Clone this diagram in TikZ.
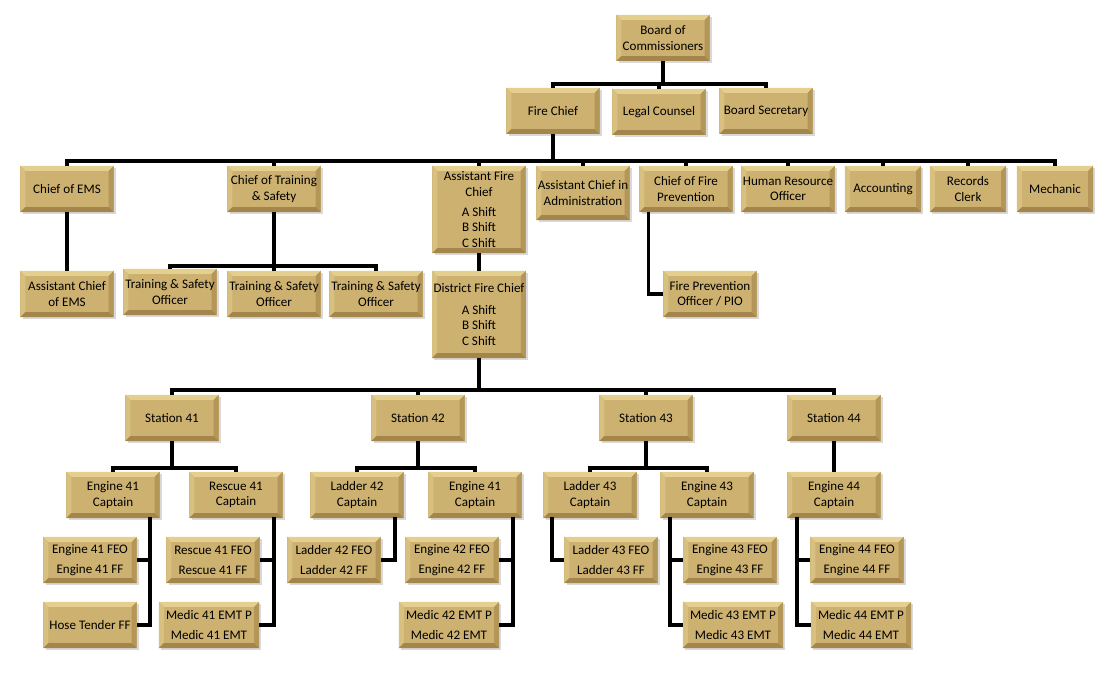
\documentclass[tikz,border=0pt]{standalone}
\usepackage{fontspec}
\setmainfont{Carlito}
\usepackage{tikz}
\usetikzlibrary{shadows}
\definecolor{gold}{RGB}{205,177,112}
\definecolor{goldtop}{RGB}{228,207,143}
\definecolor{goldleft}{RGB}{216,192,128}
\definecolor{goldright}{RGB}{180,150,88}
\definecolor{goldbot}{RGB}{164,134,76}
\newcommand{\unitfont}{\fontsize{9.3}{11}\selectfont}
\tikzset{
  bevel/.style={path picture={
    \fill[goldtop] (path picture bounding box.north west) -- (path picture bounding box.north east)
      -- ++(-3.5pt,-3.5pt) -- ([shift={(3.5pt,-3.5pt)}]path picture bounding box.north west) -- cycle;
    \fill[goldleft] (path picture bounding box.north west) -- (path picture bounding box.south west)
      -- ++(3.5pt,3.5pt) -- ([shift={(3.5pt,-3.5pt)}]path picture bounding box.north west) -- cycle;
    \fill[goldright] (path picture bounding box.north east) -- (path picture bounding box.south east)
      -- ++(-3.5pt,3.5pt) -- ([shift={(-3.5pt,-3.5pt)}]path picture bounding box.north east) -- cycle;
    \fill[goldbot] (path picture bounding box.south west) -- (path picture bounding box.south east)
      -- ++(-3.5pt,3.5pt) -- ([shift={(3.5pt,3.5pt)}]path picture bounding box.south west) -- cycle;
  }},
}

\begin{document}
\begin{tikzpicture}[
    x=0.025cm, y=-0.025cm,
    unit/.style={rectangle, fill=gold, bevel, drop shadow={shadow xshift=1.5pt, shadow yshift=-1.5pt, opacity=0.3},
      minimum width=2.325cm, minimum height=1.15cm, align=center, inner sep=1pt, font=\unitfont},
    narrow/.style={unit, minimum width=1.9cm},
    wide/.style={unit, minimum width=2.5cm},
    tall/.style={unit, minimum height=2.175cm},
    link/.style={line width=2.3pt},
]
    \useasboundingbox (0,0) rectangle (1114,674);

    % board level
    \node[unit] (board) at (663,38) {Board of\\Commissioners};
    \node[unit] (chief) at (553,111) {Fire Chief};
    \node[unit] (legal) at (659,112) {Legal Counsel};
    \node[unit] (secretary) at (766,111) {Board Secretary};

    % reports to the fire chief
    \node[unit] (ems) at (67,189) {Chief of EMS};
    \node[unit] (train) at (274,189) {Chief of Training\\\& Safety};
    \node[tall] (afc) at (479,209.5) {Assistant Fire\\Chief\\[3.2pt]A Shift\\B Shift\\C Shift};
    \node[unit, minimum height=1.35cm] (admin) at (583,193) {Assistant Chief in\\Administration};
    \node[unit] (prev) at (686,189) {Chief of Fire\\Prevention};
    \node[unit] (hr) at (788,189) {Human Resource\\Officer};
    \node[narrow] (acct) at (883,189) {Accounting};
    \node[narrow] (rec) at (968,189) {Records\\Clerk};
    \node[narrow] (mech) at (1055,189) {Mechanic};

    \node[unit] (aems) at (67,294) {Assistant Chief\\of EMS};
    \node[unit] (ts1) at (170,292) {Training \& Safety\\Officer};
    \node[unit] (ts2) at (274,294) {Training \& Safety\\Officer};
    \node[unit] (ts3) at (376,294) {Training \& Safety\\Officer};
    \node[tall] (dfc) at (479,314.5) {District Fire Chief\\[4.5pt]A Shift\\B Shift\\C Shift};
    \node[unit] (fpo) at (710,294) {Fire Prevention\\Officer / PIO};

    % stations
    \node[unit] (st41) at (172,418) {Station 41};
    \node[unit] (st42) at (418,418) {Station 42};
    \node[unit] (st43) at (646,418) {Station 43};
    \node[unit] (st44) at (834,418) {Station 44};

    \node[unit] (e41c) at (113,495) {Engine 41\\Captain};
    \node[unit] (r41c) at (236,495) {Rescue 41\\Captain};
    \node[unit] (l42c) at (357,495) {Ladder 42\\Captain};
    \node[unit] (e41cb) at (475,495) {Engine 41\\Captain};
    \node[unit] (l43c) at (590,495) {Ladder 43\\Captain};
    \node[unit] (e43c) at (707,495) {Engine 43\\Captain};
    \node[unit] (e44c) at (834,495) {Engine 44\\Captain};

    \node[unit] (e41f) at (90,560) {Engine 41 FEO\\[3.2pt]Engine 41 FF};
    \node[unit] (r41f) at (213,560) {Rescue 41 FEO\\[3.2pt]Rescue 41 FF};
    \node[unit] (l42f) at (334,560) {Ladder 42 FEO\\[3.2pt]Ladder 42 FF};
    \node[unit] (e42f) at (452,560) {Engine 42 FEO\\[3.2pt]Engine 42 FF};
    \node[unit] (l43f) at (611,560) {Ladder 43 FEO\\[3.2pt]Ladder 43 FF};
    \node[unit] (e43f) at (730,560) {Engine 43 FEO\\[3.2pt]Engine 43 FF};
    \node[unit] (e44f) at (857,560) {Engine 44 FEO\\[3.2pt]Engine 44 FF};

    \node[unit] (hose) at (90,625) {Hose Tender FF};
    \node[wide] (m41) at (209,625) {Medic 41 EMT P\\[3.2pt]Medic 41 EMT};
    \node[wide] (m42) at (449,625) {Medic 42 EMT P\\[3.2pt]Medic 42 EMT};
    \node[wide] (m43) at (733,625) {Medic 43 EMT P\\[3.2pt]Medic 43 EMT};
    \node[wide] (m44) at (861,625) {Medic 44 EMT P\\[3.2pt]Medic 44 EMT};

    % bus points
    \coordinate (topbus) at (663,84);
    \coordinate (rowbus) at (553,161);
    \coordinate (tsbus) at (274,266);
    \coordinate (stbus) at (479,390);
    \coordinate (b41) at (172,468);
    \coordinate (b42) at (418,468);
    \coordinate (b43) at (646,468);
    \coordinate (v41) at (150,517);
    \coordinate (vr41) at (274,517);
    \coordinate (vl42) at (395,517);
    \coordinate (v41b) at (513,517);
    \coordinate (vl43) at (552,517);
    \coordinate (v43) at (670,517);
    \coordinate (v44) at (797,517);

    \draw[link] (board) -- (topbus);
    \draw[link] (chief.north) |- (topbus) -| (secretary.north);
    \draw[link] (legal.north) -- (legal.north |- topbus);

    \draw[link] (chief.south) -- (rowbus);
    \draw[link] (ems.north) |- (rowbus) -| (mech.north);
    \foreach \n in {train,afc,admin,prev,hr,acct,rec}
        \draw[link] (\n.north) -- (\n.north |- rowbus);

    \draw[link] (ems) -- (aems);
    \draw[link] (train) -- (ts2);
    \draw[link] (ts1.north) |- (tsbus) -| (ts3.north);
    \draw[link] (afc) -- (dfc);
    \draw[link] ([xshift=0.225cm]prev.south west) |- (fpo.west);

    \draw[link] (dfc.south) -- (stbus);
    \draw[link] (st41.north) |- (stbus) -| (st44.north);
    \draw[link] (st42.north) -- (st42.north |- stbus);
    \draw[link] (st43.north) -- (st43.north |- stbus);

    \draw[link] (st41.south) -- (b41);
    \draw[link] (e41c.north) |- (b41) -| (r41c.north);
    \draw[link] (st42.south) -- (b42);
    \draw[link] (l42c.north) |- (b42) -| (e41cb.north);
    \draw[link] (st43.south) -- (b43);
    \draw[link] (l43c.north) |- (b43) -| (e43c.north);
    \draw[link] (st44) -- (e44c);

    \draw[link] (v41) |- (hose.east);
    \draw[link] (e41f.east) -- (e41f.east -| v41);
    \draw[link] (vr41) |- (m41.east);
    \draw[link] (r41f.east) -- (r41f.east -| vr41);
    \draw[link] (vl42) |- (l42f.east);
    \draw[link] (v41b) |- (m42.east);
    \draw[link] (e42f.east) -- (e42f.east -| v41b);
    \draw[link] (vl43) |- (l43f.west);
    \draw[link] (v43) |- (m43.west);
    \draw[link] (e43f.west) -- (e43f.west -| v43);
    \draw[link] (v44) |- (m44.west);
    \draw[link] (e44f.west) -- (e44f.west -| v44);
\end{tikzpicture}
\end{document}
